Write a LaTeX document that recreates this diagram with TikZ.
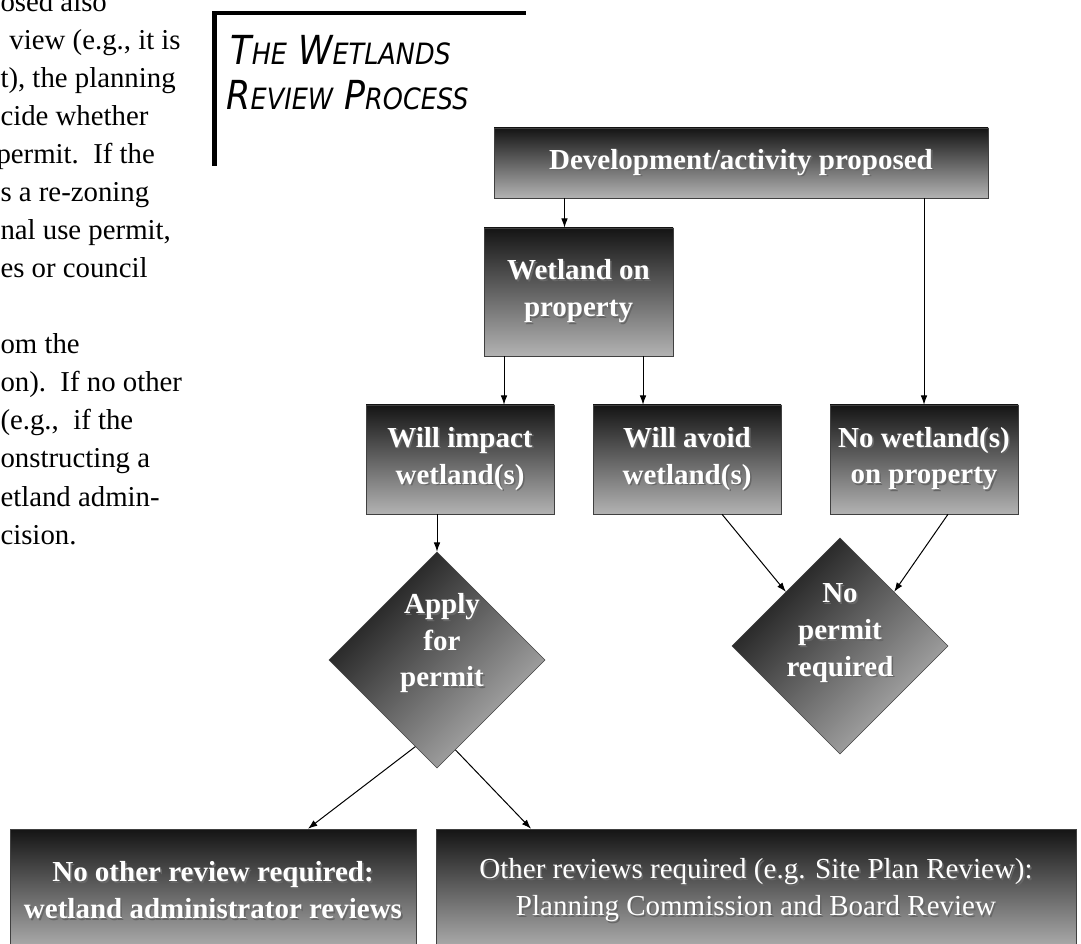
\documentclass[tikz,border=0pt]{standalone}
\usepackage{fontspec}
\setmainfont{Liberation Serif}
\newfontfamily\titlefont[FakeStretch=0.87]{DejaVu Sans}
\usetikzlibrary{arrows.meta, shapes.geometric, calc}

% white text with a grey drop shadow
\newcommand{\shd}[1]{\makebox[0pt][l]{\raisebox{-1.2pt}{\hspace*{1.2pt}\textcolor{black!60}{#1}}}#1}
% small capitals, done by hand
\newcommand{\tsc}[1]{{\fontsize{22pt}{22pt}\selectfont #1}}
\newcommand{\flowfont}{\fontsize{21.75pt}{27.5pt}\selectfont\bfseries}

\begin{document}
\begin{tikzpicture}[
            x = 0.75pt, y = -0.75pt, % one unit per pixel, y runs down
            > = {Latex[length=7pt, width=5pt]}, % arrow head style
            line width = 0.75pt % line style
        ]

        \tikzstyle{flowbox}=[
            draw = black!75,
            thin,
            top color = black!92,
            bottom color = black!30,
            text = white,
            font = \flowfont,
            align = center,
            inner sep = 0pt
        ]
        \tikzstyle{decide}=[
            flowbox,
            diamond,
            shading angle = 45,
            minimum width = 162pt,
            minimum height = 162pt
        ]
        \tikzstyle{para}=[
            anchor = base west,
            inner sep = 0pt,
            font = \fontsize{21.6pt}{28.5pt}\selectfont
        ]
        \tikzstyle{titletext}=[
            anchor = base west,
            inner sep = 0pt,
            font = \titlefont\itshape\fontsize{30pt}{30pt}\selectfont
        ]

        \useasboundingbox (0,0) rectangle (1081,944);

        % text column cut off at the left
        \foreach \xx/\yy/\txt [count=\i] in {0/12/{osed also}, 9/50/{view (e.g., it is},
            0/88/{t), the planning}, 0/126/{cide whether}, -4/164/{permit.\ \ If the},
            0/202/{s a re-zoning}, 0/240/{nal use permit,}, 0/278/{es or council},
            0/354/{om the}, 0/392/{on).\ \ If no other}, 0/430/{(e.g.,\ \ if the},
            0/468/{onstructing a}, 0/506/{etland admin-}, 0/544/{cision.}}
            \node[para] (para\i) at (\xx,\yy) {\txt};

        % title with its corner rule
        \draw[line width = 3.4pt] (214.5,166) |- (526,13);
        \node[titletext] (title1) at (230,65) {T\tsc{HE} W\tsc{ETLANDS}};
        \node[titletext] (title2) at (226,110) {R\tsc{EVIEW} P\tsc{ROCESS}};

        \node[flowbox, minimum width = 370.5pt, minimum height = 52.5pt] (dev) at (741,163) {\shd{Development/activity proposed}};
        \node[flowbox, minimum width = 141.75pt, minimum height = 96pt] (wet) at (578.5,292) {\shd{Wetland on}\\\shd{property}};
        \node[flowbox, minimum width = 141pt, minimum height = 81.75pt] (imp) at (460,459.5) {\shd{Will impact}\\\shd{wetland(s)}};
        \node[flowbox, minimum width = 141pt, minimum height = 81.75pt] (avo) at (687,459.5) {\shd{Will avoid}\\\shd{wetland(s)}};
        \node[flowbox, minimum width = 141pt, minimum height = 81.75pt] (nowet) at (924,459.5) {\shd{No wetland(s)}\\\shd{on property}};

        \node[decide] (apply) at (437,660) {};
        \node[text = white, font = \flowfont, align = center] (applytx) at ($(apply)+(5,-16)$) {\shd{Apply}\\\shd{for}\\\shd{permit}};
        \node[decide] (noperm) at (840,646) {};
        \node[text = white, font = \flowfont, align = center] (nopermtx) at ($(noperm)+(0,-12)$) {\shd{No}\\\shd{permit}\\\shd{required}};

        \node[flowbox, minimum width = 304.5pt, minimum height = 93pt] (nrev) at (213,891) {\shd{No other review required:}\\\shd{wetland administrator reviews}};
        \node[flowbox, font = \fontsize{21.75pt}{27.5pt}\selectfont, minimum width = 480pt, minimum height = 93pt] (orev) at (756,891) {\shd{Other reviews required (e.g. Site Plan Review):}\\\shd{Planning Commission and Board Review}};

        \coordinate (d1) at ($(wet.north)+(-14,0)$);
        \coordinate (w1) at ($(wet.south)+(-74.5,0)$);
        \coordinate (w2) at ($(wet.south)+(64.5,0)$);
        \coordinate (a1) at ($(avo.south)+(35,0)$);
        \coordinate (n1) at ($(nowet.south)+(24,0)$);
        \coordinate (p1) at ($(apply.south)!0.2!(apply.west)$);
        \coordinate (p2) at ($(apply.south)!0.17!(apply.east)$);

        \path[->] (d1 |- dev.south) edge (d1);
        \path[->] (nowet.north |- dev.south) edge (nowet.north);
        \path[->] (w1) edge (w1 |- imp.north);
        \path[->] (w2) edge (w2 |- avo.north);
        \path[->] (apply.north |- imp.south) edge (apply.north);
        \path[->] (a1) edge (noperm.north west);
        \path[->] (n1) edge (noperm.north east);
        \path[->] (p1) edge ($(nrev.north)+(95,0)$);
        \path[->] (p2) edge ($(orev.north)+(-225,0)$);

    \end{tikzpicture}
\end{document}
